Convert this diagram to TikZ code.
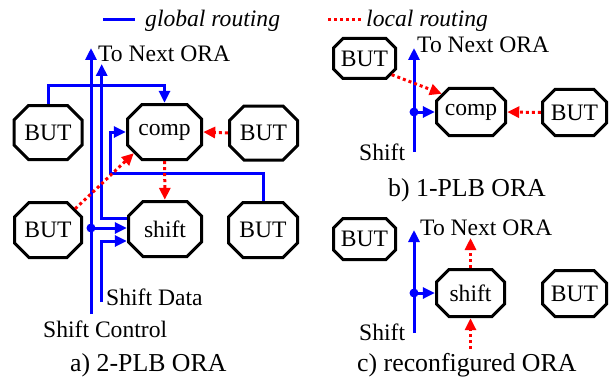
\documentclass[tikz,border=0pt]{standalone}
\usepackage{fontspec}
\setmainfont{Liberation Serif}
\usetikzlibrary{arrows.meta,positioning}

\begin{document}
\begin{tikzpicture}[x=1pt,y=-1pt,
  octc/.store in=\octc, octc=16pt,
  octo/.style={rectangle, inner sep=0pt, minimum width=71pt, minimum height=57pt,
    font=\fontsize{23.6}{26}\selectfont,
    path picture={
      \draw[line width=3pt]
        ([xshift=\octc,yshift=-1.5pt]path picture bounding box.north west)
        -- ([xshift=-\octc,yshift=-1.5pt]path picture bounding box.north east)
        -- ([xshift=-1.5pt,yshift=-\octc]path picture bounding box.north east)
        -- ([xshift=-1.5pt,yshift=\octc]path picture bounding box.south east)
        -- ([xshift=-\octc,yshift=1.5pt]path picture bounding box.south east)
        -- ([xshift=\octc,yshift=1.5pt]path picture bounding box.south west)
        -- ([xshift=1.5pt,yshift=\octc]path picture bounding box.south west)
        -- ([xshift=1.5pt,yshift=-\octc]path picture bounding box.north west)
        -- cycle;}},
  smallocto/.style={octc=11pt, minimum width=65pt, minimum height=43pt},
  midocto/.style={octc=14pt, minimum width=71pt, minimum height=50pt},
  lbl/.style={anchor=base west, inner sep=0pt, font=\fontsize{23.6}{26}\selectfont},
  captxt/.style={anchor=base west, inner sep=0pt, font=\fontsize{25.8}{28}\selectfont},
  glob/.style={draw=blue, line width=3pt},
  loc/.style={draw=red, line width=3pt, dash pattern=on 3pt off 3pt},
  tipb/.style={-{Triangle[length=12pt,width=11pt]}},
  tipr/.style={-{Triangle[length=12pt,width=11pt,fill=red]}},
  jn/.style={circle, fill=blue, inner sep=0pt, minimum size=9pt}
]
\useasboundingbox (0,0) rectangle (609,377);

% legend
\coordinate (lg1) at (103,19.5);
\coordinate (lg2) at (135,19.5);
\draw[glob] (lg1) -- (lg2);
\node[lbl, font=\fontsize{23.6}{26}\selectfont\itshape] (glabel) at (145,27) {global routing};
\coordinate (ll1) at (328,19.5);
\coordinate (ll2) at (363,19.5);
\draw[loc] (ll1) -- (ll2);
\node[lbl, font=\fontsize{23.6}{26}\selectfont\itshape] (llabel) at (366,27) {local routing};

% a) 2-PLB ORA
\node[octo] (butA1) at (48,132.5) {BUT};
\node[octo, minimum width=77pt, minimum height=58pt] (compA) at (164.5,132) {comp};
\node[octo] (butA2) at (263.5,133) {BUT};
\node[octo, minimum width=70pt, minimum height=58pt] (butA3) at (48,230) {BUT};
\node[octo, minimum width=76pt, minimum height=58pt] (shiftA) at (165,229) {shift};
\node[octo, minimum width=72pt, minimum height=58pt] (butA4) at (263,230) {BUT};

\node[lbl] (nextA) at (98,62) {To Next ORA};
\node[lbl] (sdlabel) at (106,305) {Shift Data};
\node[lbl] (sclabel) at (43,337) {Shift Control};
\node[captxt] (capA) at (70,371) {a) 2-PLB ORA};

\coordinate (scA) at (91,314);
\coordinate (topA1) at (91,48);
\coordinate (sdA) at (101.7,302);
\coordinate (topA2) at (101.7,64);
\coordinate (kA) at (110,173);
\node[jn] (dotA) at (91,228) {};

\draw[glob, tipb] (scA) -- (topA1);
\draw[glob, tipb] (dotA.center) -- (dotA -| shiftA.west);
\draw[glob, tipb] (sdA) |- ([yshift=-12pt]shiftA.west);
\draw[glob, tipb] ([yshift=11pt]shiftA.west) -| (topA2);
\draw[glob, tipb] (butA1.north) -- ++(0,-18) -| (compA.north);
\draw[glob, tipb] (butA4.north) |- (kA) |- (compA.west);
\draw[loc, tipr] (butA2.west) -- (compA.east);
\draw[loc, tipr] (compA) -- (shiftA);
\draw[loc, tipr] ([xshift=-8pt,yshift=-8pt]butA3.north east) -- ([xshift=8pt,yshift=8pt]compA.south west);

% b) 1-PLB ORA
\node[octo, smallocto] (butB1) at (364.5,58.5) {BUT};
\node[octo, midocto, minimum width=72pt] (compB) at (471,112) {comp};
\node[octo, midocto, minimum width=67pt, minimum height=49pt] (butB2) at (574.5,112.5) {BUT};
\node[lbl] (nextB) at (417,53) {To Next ORA};
\node[lbl] (shB) at (359,160) {Shift};
\node[captxt] (capB) at (388,196) {b) 1-PLB ORA};

\coordinate (inB) at (414,152);
\coordinate (topB) at (414,48);
\node[jn] (dotB) at (414,112) {};
\draw[glob, tipb] (inB) -- (topB);
\draw[glob, tipb] (dotB.center) -- (compB.west);
\draw[loc, tipr] ([xshift=-5.5pt,yshift=5.5pt]butB1.south east) -- ([xshift=7pt,yshift=-7pt]compB.north west);
\draw[loc, tipr] (butB2.west) -- (compB.east);

% c) reconfigured ORA
\node[octo, smallocto, minimum height=44pt] (butC1) at (364.5,239) {BUT};
\node[octo, midocto] (shiftC) at (470.5,293) {shift};
\node[octo, midocto, minimum width=67pt, minimum height=49pt] (butC2) at (574.5,293.5) {BUT};
\node[lbl] (nextC) at (420,235) {To Next ORA};
\node[lbl] (shC) at (359,340) {Shift};
\node[captxt] (capC) at (357,371) {c) reconfigured ORA};

\coordinate (inC) at (414,333);
\coordinate (topC) at (414,230);
\node[jn] (dotC) at (414,293) {};
\coordinate (upC) at (470.5,238);
\coordinate (loC) at (470.5,349);
\draw[glob, tipb] (inC) -- (topC);
\draw[glob, tipb] (dotC.center) -- (shiftC.west);
\draw[loc, tipr] (shiftC.north) -- (upC);
\draw[loc, tipr] (loC) -- (shiftC.south);
\end{tikzpicture}
\end{document}
